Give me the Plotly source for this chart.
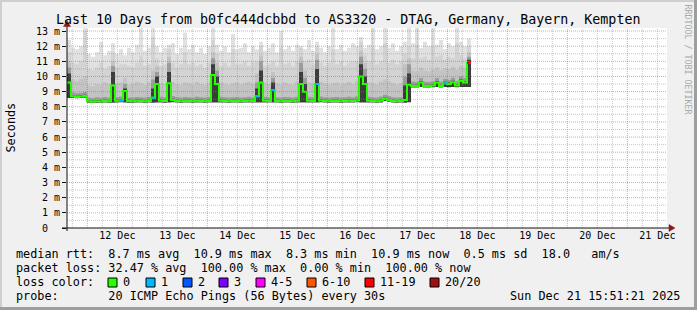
import plotly.graph_objects as go
import pandas as pd

# ---------------- data ----------------
start_time = "2025-12-11 15:51:21"
step_minutes = 96          # one sample = 4 px of the original rrd graph
window_days = 10

median_rtt = [
    9.60, 8.70, 8.65, 8.68, 8.72, 8.36, 8.33, 8.36, 8.35, 8.38,
    8.36, 9.40, 8.40, 8.42, 9.05, 8.38, 8.37, 8.40, 8.38, 8.37,
    8.39, 8.60, 9.50, 8.40, 8.38, 9.55, 8.45, 8.38, 8.37, 8.39,
    8.38, 8.37, 8.40, 8.38, 8.37, 8.39, 10.10, 9.50, 8.40, 8.38,
    8.37, 8.38, 8.39, 8.37, 8.38, 8.40, 8.38, 8.70, 9.60, 8.40,
    8.38, 9.10, 8.38, 8.37, 8.39, 8.38, 8.37, 8.40, 9.50, 9.00,
    8.40, 8.38, 9.50, 8.42, 8.38, 8.37, 8.38, 8.39, 8.37, 8.38,
    8.40, 8.38, 8.42, 10.00, 9.50, 8.40, 8.38, 8.37, 8.40, 8.52,
    8.45, 8.38, 8.37, 8.38, 8.45, 9.45, 9.38, 9.37, 9.60, 9.38,
    9.37, 9.40, 9.60, 9.38, 9.55, 9.50, 9.62, 9.40, 9.70, 9.60,
    10.90]

rtt_min = [
    8.58, 8.58, 8.56, 8.58, 8.60, 8.27, 8.25, 8.27, 8.26, 8.28,
    8.27, 8.27, 8.29, 8.30, 8.28, 8.27, 8.27, 8.29, 8.28, 8.27,
    8.28, 8.27, 8.28, 8.29, 8.27, 8.28, 8.30, 8.28, 8.27, 8.28,
    8.28, 8.27, 8.29, 8.28, 8.27, 8.28, 8.28, 8.28, 8.29, 8.28,
    8.27, 8.28, 8.28, 8.27, 8.28, 8.29, 8.28, 8.28, 8.28, 8.29,
    8.28, 8.28, 8.28, 8.27, 8.28, 8.28, 8.27, 8.29, 8.28, 8.28,
    8.29, 8.28, 8.28, 8.30, 8.28, 8.27, 8.28, 8.28, 8.27, 8.28,
    8.29, 8.28, 8.30, 8.28, 8.28, 8.29, 8.28, 8.27, 8.29, 8.38,
    8.33, 8.28, 8.27, 8.28, 8.27, 8.30, 9.28, 9.27, 9.30, 9.28,
    9.27, 9.29, 9.30, 9.28, 9.30, 9.29, 9.31, 9.29, 9.31, 9.30,
    9.30]

smoke_b5 = [
    10.2, 8.78, 8.73, 8.76, 8.80, 8.44, 8.41, 8.44, 8.43, 8.46,
    8.44, 10.3, 8.48, 8.50, 9.20, 8.46, 8.45, 8.48, 8.46, 8.45,
    8.47, 9.20, 10.0, 8.48, 8.46, 10.3, 8.53, 8.46, 8.45, 8.47,
    8.46, 8.45, 8.48, 8.46, 8.45, 8.47, 10.8, 10.0, 8.48, 8.46,
    8.45, 8.46, 8.47, 8.45, 8.46, 8.48, 8.46, 9.20, 10.4, 8.48,
    8.46, 9.60, 8.46, 8.45, 8.47, 8.46, 8.45, 8.48, 10.3, 9.50,
    8.48, 8.46, 10.5, 8.50, 8.46, 8.45, 8.46, 8.47, 8.45, 8.46,
    8.48, 8.46, 8.50, 10.8, 10.0, 8.48, 8.46, 8.45, 8.48, 8.60,
    8.53, 8.46, 8.45, 8.46, 9.40, 10.2, 9.46, 9.45, 9.70, 9.46,
    9.45, 9.48, 9.70, 9.46, 9.65, 9.60, 9.72, 9.48, 9.80, 9.70,
    11.1]

smoke_b4 = [
    10.6, 8.95, 8.90, 8.93, 8.97, 8.61, 8.58, 8.63, 8.60, 8.64,
    8.62, 10.7, 8.65, 8.68, 9.50, 8.62, 8.61, 8.65, 8.63, 8.61,
    8.64, 9.80, 10.3, 8.66, 8.63, 10.9, 8.72, 8.63, 8.61, 8.65,
    8.63, 8.61, 8.66, 8.63, 8.62, 8.65, 11.2, 10.4, 8.66, 8.63,
    8.61, 8.63, 8.65, 8.62, 8.63, 8.66, 8.63, 9.60, 11.0, 8.66,
    8.63, 9.90, 8.63, 8.62, 8.65, 8.63, 8.61, 8.66, 10.9, 9.90,
    8.66, 8.63, 11.1, 8.68, 8.63, 8.62, 8.63, 8.65, 8.62, 8.63,
    8.66, 8.63, 8.70, 11.3, 10.5, 8.66, 8.63, 8.62, 8.68, 8.80,
    8.72, 8.63, 8.62, 8.63, 10.0, 10.8, 9.65, 9.63, 9.90, 9.66,
    9.63, 9.68, 9.90, 9.66, 9.85, 9.78, 9.92, 9.68, 10.0, 9.90,
    11.3]

smoke_b3 = [
    11.0, 9.80, 9.70, 9.85, 10.0, 9.40, 9.35, 9.50, 9.45, 9.60,
    9.50, 11.0, 9.55, 9.60, 9.90, 9.45, 9.50, 9.65, 9.55, 9.45,
    9.60, 10.4, 10.7, 9.55, 9.50, 11.3, 9.65, 9.50, 9.45, 9.60,
    9.55, 9.45, 9.65, 9.50, 9.45, 9.60, 11.6, 10.9, 9.60, 9.50,
    9.45, 9.55, 9.60, 9.45, 9.55, 9.65, 9.50, 10.2, 11.4, 9.60,
    9.50, 10.3, 9.55, 9.45, 9.60, 9.50, 9.45, 9.65, 11.3, 10.4,
    9.60, 9.50, 11.5, 9.65, 9.55, 9.45, 9.55, 9.60, 9.45, 9.55,
    9.65, 9.50, 9.70, 11.7, 10.9, 9.60, 9.55, 9.45, 9.65, 9.80,
    9.70, 9.55, 9.45, 9.55, 10.8, 11.2, 10.40, 10.35, 10.6, 10.4,
    10.35, 10.45, 10.6, 10.4, 10.55, 10.5, 10.65, 10.45, 10.7, 10.6,
    11.6]

smoke_b2 = [
    11.6, 10.9, 10.8, 11.0, 13.0, 10.5, 10.4, 10.6, 10.9, 10.5,
    10.7, 11.6, 10.6, 10.8, 10.8, 10.7, 10.6, 10.9, 11.4, 10.7,
    10.8, 12.6, 11.2, 10.7, 10.8, 11.8, 10.9, 10.6, 10.8, 11.6,
    10.8, 10.9, 10.7, 10.8, 10.6, 10.9, 12.4, 11.5, 10.7, 10.9,
    10.7, 11.8, 10.8, 10.8, 11.0, 10.7, 10.9, 11.0, 12.0, 10.7,
    10.8, 11.0, 10.7, 11.9, 10.8, 10.9, 10.7, 11.0, 11.9, 11.0,
    11.1, 10.8, 12.0, 10.9, 10.7, 10.9, 11.8, 10.8, 11.0, 10.7,
    10.9, 11.0, 11.0, 12.3, 11.4, 11.0, 11.9, 10.8, 11.0, 12.2,
    10.9, 11.1, 10.8, 11.0, 11.5, 12.0, 11.2, 12.1, 11.2, 11.3,
    11.1, 12.0, 11.3, 11.4, 11.1, 11.3, 11.2, 12.2, 11.4, 11.2,
    12.0]

rtt_max = [
    12.4, 11.9, 11.8, 12.0, 13.2, 11.5, 11.3, 11.6, 12.3, 11.4,
    11.7, 12.2, 11.5, 11.8, 11.4, 11.9, 11.6, 12.1, 13.2, 11.7,
    11.9, 13.2, 12.0, 11.6, 11.9, 12.1, 12.2, 11.5, 11.9, 12.9,
    11.8, 12.1, 11.6, 11.9, 11.5, 12.0, 13.2, 12.1, 11.7, 12.0,
    11.6, 12.8, 11.8, 11.9, 12.2, 11.6, 12.0, 11.8, 12.3, 11.7,
    11.9, 12.2, 11.6, 13.0, 11.8, 12.0, 11.7, 12.1, 12.0, 11.8,
    12.4, 11.7, 12.3, 11.9, 11.6, 12.0, 13.2, 11.8, 12.1, 11.7,
    11.9, 12.2, 12.0, 12.6, 11.9, 12.1, 13.2, 11.8, 12.0, 13.2,
    11.9, 12.2, 11.7, 12.0, 12.3, 13.2, 12.2, 13.2, 11.9, 12.3,
    12.0, 13.2, 12.1, 12.4, 11.8, 12.2, 12.0, 13.2, 12.3, 12.0,
    12.5]

loss_idx = [13, 21, 47, 51, 62, 94, 100]
loss_cnt = [1, 1, 1, 1, 1, 1, 15]

loss_labels = ["0", "1", "2", "3", "4-5", "6-10", "11-19", "20/20"]
loss_upper = [0, 1, 2, 3, 5, 10, 19, 20]
loss_colors = ["#26ff00", "#00b8ff", "#0059ff", "#7e00ff",
               "#ff00ff", "#ff5500", "#ff0000", "#a01010"]

day_labels = ["12 Dec", "13 Dec", "14 Dec", "15 Dec", "16 Dec",
              "17 Dec", "18 Dec", "19 Dec", "20 Dec", "21 Dec"]
y_values = list(range(0, 14))
y_labels = ["0\u00a0\u00a0"] + [f"{v} m" for v in range(1, 14)]

title_text = "Last 10 Days from b0fc444dcbbd to AS3320 - DTAG, Germany, Bayern, Kempten"
legend_line1 = "median rtt:  8.7 ms avg  10.9 ms max  8.3 ms min  10.9 ms now  0.5 ms sd  18.0   am/s"
legend_line2 = "packet loss: 32.47 % avg  100.00 % max  0.00 % min  100.00 % now"
legend_line3 = "loss color:"
legend_line4 = "probe:       20 ICMP Echo Pings (56 Bytes) every 30s"
stamp_text = "Sun Dec 21 15:51:21 2025"

# ---------------- layout geometry (pixels) ----------------
W, H = 697, 310
L, R, T, B = 67, 667, 28, 228
PW, PH = R - L, B - T
Y_MAX = 13.2
MONO = "DejaVu Sans Mono"


def px(x):
    return (x - L) / PW


def py(y):
    return (B - y) / PH


def nb(s):
    return s.replace(" ", "\u00a0")


t0 = pd.Timestamp(start_time)
times = pd.date_range(t0, periods=len(median_rtt) + 1, freq=f"{step_minutes}min")


def stepped(vals):
    return list(vals) + [vals[-1]]


fig = go.Figure()

bands = [(rtt_max, "#e1e1e1"), (smoke_b2, "#d3d3d3"), (smoke_b3, "#c3c3c3"),
         (smoke_b4, "#9c9c9c"), (smoke_b5, "#3c3c3c"), (rtt_min, "#ffffff")]
for vals, col in bands:
    fig.add_trace(go.Scatter(x=times, y=stepped(vals), mode="lines",
                             line=dict(width=0, shape="hv"), fill="tozeroy",
                             fillcolor=col, hoverinfo="skip", showlegend=False))

fig.add_trace(go.Scatter(x=times, y=stepped(median_rtt), mode="lines",
                         line=dict(width=2, color=loss_colors[0], shape="hv"),
                         hoverinfo="skip", showlegend=False))

for i, c in zip(loss_idx, loss_cnt):
    col = next(lc for lu, lc in zip(loss_upper, loss_colors) if c <= lu)
    fig.add_trace(go.Scatter(x=[times[i], times[i + 1]], y=[median_rtt[i], median_rtt[i]],
                             mode="lines", line=dict(width=2, color=col),
                             hoverinfo="skip", showlegend=False))

shapes = []
# grid (drawn above the smoke as rrdtool does)
day0 = t0.normalize()
for k in range(0, window_days * 4 + 4):
    t = day0 + pd.Timedelta(hours=6 * k)
    if t <= t0 or t >= t0 + pd.Timedelta(days=window_days):
        continue
    major = t.hour == 0
    shapes.append(dict(type="line", xref="x", yref="paper", x0=t, x1=t, y0=0, y1=1,
                       layer="above",
                       line=dict(color="rgba(222,80,80,0.55)" if major else "rgba(143,143,143,0.5)",
                                 width=1, dash="1px,1px")))
for k in range(1, int(Y_MAX * 2) + 1):
    v = k / 2
    major = k % 2 == 0
    shapes.append(dict(type="line", xref="paper", yref="y", x0=0, x1=1, y0=v, y1=v,
                       layer="above",
                       line=dict(color="rgba(222,80,80,0.55)" if major else "rgba(143,143,143,0.5)",
                                 width=1, dash="1px,1px")))

# axes + arrows
AX = "#101010"
ARROW = "#8b1a1a"
shapes.append(dict(type="line", xref="paper", yref="paper", x0=px(62), x1=px(670),
                   y0=0, y1=0, layer="above", line=dict(color=AX, width=1)))
shapes.append(dict(type="line", xref="paper", yref="paper", x0=0, x1=0,
                   y0=py(231), y1=py(25), layer="above", line=dict(color=AX, width=1)))
shapes.append(dict(type="path", xref="paper", yref="paper", layer="above",
                   path=f"M {px(669)},{py(224.5)} L {px(675)},{py(228)} L {px(669)},{py(231.5)} Z",
                   fillcolor=ARROW, line=dict(color=ARROW, width=0.5)))
shapes.append(dict(type="path", xref="paper", yref="paper", layer="above",
                   path=f"M {px(63.5)},{py(26.5)} L {px(67)},{py(20.5)} L {px(70.5)},{py(26.5)} Z",
                   fillcolor=ARROW, line=dict(color=ARROW, width=0.5)))

# 3D frame
shapes.append(dict(type="line", xref="paper", yref="paper", x0=px(0), x1=px(W), y0=py(1), y1=py(1),
                   line=dict(color="#cfcfcf", width=2)))
shapes.append(dict(type="line", xref="paper", yref="paper", x0=px(1), x1=px(1), y0=py(0), y1=py(H),
                   line=dict(color="#cfcfcf", width=2)))
shapes.append(dict(type="line", xref="paper", yref="paper", x0=px(0), x1=px(W), y0=py(308.5), y1=py(308.5),
                   line=dict(color="#9e9e9e", width=3)))
shapes.append(dict(type="line", xref="paper", yref="paper", x0=px(695.5), x1=px(695.5), y0=py(0), y1=py(H),
                   line=dict(color="#9e9e9e", width=3)))

# loss colour boxes
box_x = [108, 146, 183, 219, 256, 307, 365, 430]
for bx, col in zip(box_x, loss_colors):
    shapes.append(dict(type="rect", xref="paper", yref="paper",
                       x0=px(bx), x1=px(bx + 9), y0=py(287), y1=py(278),
                       fillcolor=col, line=dict(color="#000000", width=1)))

annotations = []


def text(x, y, s, size, anchor="left", color="#000000", angle=0):
    annotations.append(dict(xref="paper", yref="paper", x=px(x), y=py(y), text=nb(s),
                            showarrow=False, xanchor=anchor, yanchor="middle",
                            textangle=angle, borderpad=0,
                            font=dict(family=MONO, size=size, color=color)))


text(347.5, 19, title_text, 13.3, anchor="center")
text(10.5, 128, "Seconds", 11.8, anchor="center", angle=-90)
text(687.5, 59, "RRDTOOL / TOBI OETIKER", 8.3, anchor="center", color="#a8a8a8", angle=90)
text(15, 254.3, legend_line1, 11.8)
text(15, 268.3, legend_line2, 11.8)
text(15, 282.3, legend_line3, 11.8)
for bx, lab in zip(box_x, loss_labels):
    text(bx + 14, 282.3, lab, 11.8)
text(15, 296.3, legend_line4, 11.8)
text(681, 296.3, stamp_text, 11.8, anchor="right")

noon_ticks = [day0 + pd.Timedelta(days=d + 1, hours=12) for d in range(len(day_labels))]

fig.update_layout(
    width=W, height=H,
    margin=dict(l=L, r=W - R, t=T, b=H - B, pad=0),
    paper_bgcolor="#f0f0f0", plot_bgcolor="#ffffff",
    showlegend=False,
    shapes=shapes, annotations=annotations,
    xaxis=dict(type="date", range=[t0, t0 + pd.Timedelta(days=window_days)],
               tickvals=noon_ticks, ticktext=day_labels, showgrid=False, zeroline=False,
               showline=False, ticks="", fixedrange=True,
               tickfont=dict(family=MONO, size=10, color="#000000")),
    yaxis=dict(range=[0, Y_MAX], tickvals=y_values, ticktext=y_labels, showgrid=False,
               zeroline=False, showline=False, ticks="outside", ticklen=4, tickwidth=1,
               tickcolor=AX, fixedrange=True,
               tickfont=dict(family=MONO, size=10, color="#000000")),
)

fig.write_html("out.html")
